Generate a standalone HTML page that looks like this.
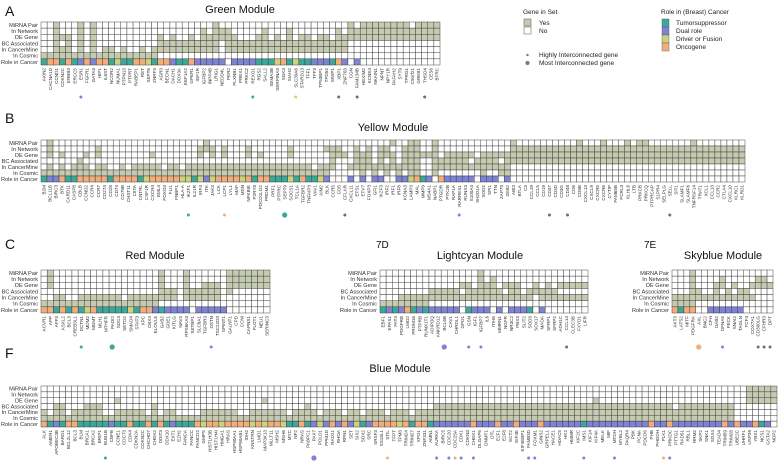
<!DOCTYPE html>
<html><head><meta charset="utf-8"><style>
html,body{margin:0;padding:0;background:#fff;}
svg{display:block;font-family:"Liberation Sans",sans-serif;}
</style></head><body>
<svg id="chart" width="778" height="461" viewBox="0 0 778 461" xmlns="http://www.w3.org/2000/svg">
<g fill="#111">
<text x="5" y="16" font-size="14">A</text>
<text x="5" y="123" font-size="14">B</text>
<text x="5" y="249" font-size="14">C</text>
<text x="376" y="248" font-size="10">7D</text>
<text x="644" y="248" font-size="10">7E</text>
<text x="5" y="358" font-size="14">F</text>
</g>
<g font-size="6.5" fill="#222">
<text x="523" y="14">Gene in Set</text>
<rect x="524" y="19" width="7" height="7" fill="#c5cbb0" stroke="#555" stroke-width="0.5"/>
<text x="539" y="25">Yes</text>
<rect x="524" y="27" width="7" height="7" fill="#fff" stroke="#555" stroke-width="0.5"/>
<text x="539" y="33">No</text>
<circle cx="527.5" cy="55" r="1.2" fill="#777"/>
<text x="539" y="57">Highly Interconnected gene</text>
<circle cx="527.5" cy="63" r="2" fill="#777"/>
<text x="539" y="65">Most Interconnected gene</text>
<text x="661" y="14">Role in (Breast) Cancer</text>
<rect x="662" y="19" width="7" height="8" fill="#3aa99a" stroke="#555" stroke-width="0.4"/>
<rect x="662" y="27" width="7" height="8" fill="#7f83d6" stroke="#555" stroke-width="0.4"/>
<rect x="662" y="35" width="7" height="8" fill="#cfd27c" stroke="#555" stroke-width="0.4"/>
<rect x="662" y="43" width="7" height="8" fill="#f3ad7c" stroke="#555" stroke-width="0.4"/>
<text x="676" y="25">Tumorsuppressor</text>
<text x="676" y="33">Dual role</text>
<text x="676" y="41">Driver or Fusion</text>
<text x="676" y="49">Oncogene</text>
</g>
<g id="panels"></g>
</svg>
<script>
const rowLabels = ["MiRNA Pair","In Network","DE Gene","BC Associated","In CancerMine","In Cosmic","Role in Cancer"];

const greenGenes = ["AXIN2","CACNA1D","CCND1","CDKN2C","ERBB3","ERCC5","ESR1","FGFR1","GATA3","HIP1","IL6ST","NCOR2","NUMA1","PTPN13","PTPRT","RABEP1","RET","SEPT6","ZNRF3","AGR3","BECN1","DACH1","DDX3A","EEF1A2","GPER1","IGF1R","IGFBP2","INPP4B","LRIG1","NEDD4L","PER2","PLXNB1","PREX1","PRKCZ","REXO1","RGS2","SALL2","SEMA3B","SERPINA3","SGK3","SIAH2","SLC39A6","STARD13","TFF1","TFF3","TP53BP1","TPD52","WWP1","XBP1","ZNF703","CGN","FAM134B","HEXIM2","KCNE4","NKAIN1","NPNT","NPY1R","PAFAH2","SYT9","TPRG1","C9orf21","GREB1","THSD4","CES6","BTRC"];
const greenRows = [
"00100010100000000000000000001000000000000000000000101111111101111",
"00100010100000000000000000101110000010001000000010111111111111111",
"00111010100000000001010010111111000110101011011011111111111111111",
"00101010100000000001111111111011111111111111111111000000000000000",
"00111010101101001011111111111011111111111111111111000000000000000",
"11111111111111111110000000000000000000000000000000000000000000000"];
const greenRoles = "tootot dodootfttooftoodttoddddd-ddddtttfotfttdddtod-d".replace(/ /g,"");
const greenDots = [[6,1,"d"],[34,1,"t"],[41,1,"f"],[48,1,"g"],[51,1,"g"],[62,1,"g"]];

const yellowGenes = ["B2M","BCL11B","BIRC3","BTK","CARD11","CASP8","CBLB","CCND2","CCR4","CCR7","CD274","CD28","CD74","CD79B","CHST11","CIITA","CNTRL","CSF1R","CXCR4","EML4","FOXO3","FLI1","FNBP1","HLA-A","IKZF1","IL21R","IRF4","ITK","JAK3","LCK","LCP1","LYL1","MAF","MSN","NFKBIE","P2RY8","PDCD1LG2","PRDM1","PRF1","PTPRC","SEPT9","SOCS1","TCL1A","TGFBR2","TNFAIP3","VAV1","AIM2","BLK","CCR5","CD5","CFLAR","CXCL11","ETS1","ETV7","FOXP3","GFI1","IKZF3","IRF2","IRF1","IRF8","KCNA3","LAMP3","MAL","MMP9","MS4A1","NABP1","PTGDR","PTK2B","RAP1A","RARRES1","RUNX3","S100A4","SH2D1A","SOD2","SPI1","TTN","ZAP70","ZEB2","ABI3","BTLA","C3","CCL19","CCL5","CD19","CD37","CD3D","CD3G","CD48","CD6","CD8B","CXCL13","CXCL9","CXCR5","CXCR6","CYTIP","FAM65B","FCRL3","KLHL6","LTB","PRKCB","PRKCQ","PTPRCAP","S1PR4","SELPLG","SELL","SIT1","SLAMF1","SLAMF6","TNFRSF14","TRAT1","XCL1","CCL13","CCR2","CTLA4","CXCL10","KLRC1","KLRD1"];
const yellowRows = [
"010000000000000000000000000100000000000000000000000000000010011001000000000000100000000001000100010110000000100000000",
"010000000100000000000000001110100010000001000001110010101100111001000000000000111111111111111111111111111111111111111",
"010100010100000000100000001010100010100001000000111011101110111111011111011111111111111111111111111111111111111111111",
"000000100000000000000000000000000000000000000000100011101010111001111110111101111111111111111111111111111111111111111",
"010101110110010111110110111111111111111111111011100111111111111001111111111111000000000000000000000000000000000000000",
"111111111111111111111111111111111111111111111111000001010101011001000000010011000000000000000000000000000000000000000"];
const yellowRoles = "tddottoooootoooo tfooooofftfdfoooofotootttftottfd---d-d-dd--ddfotd-oddddd-ddd-d-".replace(/ /g,"");
const yellowDots = [[24,1,"t"],[30,1,"o"],[40,2,"t"],[50,1,"g"],[69,1,"d"],[84,1,"g"],[87,1,"g"],[104,1,"g"]];

const redGenes = ["ACVR1","APP","AFF3","ASXL2","BCL3","CREB3L1","DCTN1","MDM2","MGMT","MLH1","MTHFR","PADI2","SDC4","SETD2","SMAD4","STAT3","XPC","CBX4","ELOVL6","GAB2","GDE1","KITLG","NAV3","RPS6KA3","SETBP1","SLC8A1","TGFBR3","DSTN","TSC22D3","SPINT1","GALNT1","CPD","CCNI","CAPNS1","FLOT1","NEU1","SERINC3"];
const redRows = [
"0100000000000000000100010000001111111",
"0100000000000000000100010000001111111",
"0100000000000000000100010011101111111",
"0000000000000000000111011111101000000",
"0011001111111011111111011111100000000",
"1111111111111111111000000000000000000"];
const redRoles = "ootototfotttttftoodtdddd-ddddd";
const redDots = [[6,1,"t"],[11,2,"t"],[27,1,"d"]];

const cyanGenes = ["EBF1","EPAS1","FAT4","PDGFRB","LMO2","PRDM16","PTPRB","RUNX1T1","ADIPOQ","ANKRD12","BCL6B","CAV1","CHRDL1","GPD1","GSN","IGF1","IGFBP7","IL6","ITIH5","MMRN1","NGFR","NR3C2","PBX3","SLIT2","SOD3","SOX17","MAOA","SFRP1","SFRP2","ADH1C","CCL14","CLEC3B","FXYD1","LIFR"];
const cyanRows = [
"0000000000000000100000000000000000",
"0000000000000000101000000000000000",
"0000000000000110111011100101011111",
"0000000011111011111101101111100000",
"0001111111111111111111111011111111",
"1111111100000000000000000000000000"];
const cyanRoles = "tdtdotdtddddd-tddd-d-dddt-d";
const cyanDots = [[10,2,"d"],[14,1,"d"],[16,1,"d"],[30,1,"g"]];

const skyGenes = ["AKT3","LATS2","MITF","PDGFRA","AXL","BNC2","CFH","DAB2","DFNA5","FECK","SNAI2","TAGLN","TCF4","COX7A1","CD300LG","CFHR3","DPT"];
const skyRows = [
"00010000000000000",
"00010000100000110",
"00010001101001111",
"00011001010110000",
"11111111111111000",
"11110000000000000"];
const skyRoles = "otoo--dddddd";
const skyDots = [[4,2,"o"],[8,1,"d"],[14,1,"g"],[15,1,"g"],[16,1,"g"]];

const blueGenes = ["ALK","AMER1","APOBEC3B","BARD1","BCL2L12","BCL3","BLM","BRCA1","BRCA2","BRIP1","BUB1B","CBFB","CCNE1","CDC73","CDK4","CDKN2A","CDKN2C","CHCHD7","CHEK2","DDIT3","DDX10","EXT1","EZH2","FANCA","FANCC","FANCD2","GMPS","HIST1H3B","HIST1H4I","HMGA1","HRAS","HSP90AA1","HSP90AB1","IDH2","KNSTRN","LMO1","MAP3K13","MLLT11","MSH2","MSH6","MYC","NF2","NRAS","PABPC1","PAX7","POLD1","PPM1D","RAD21","RHOA","RPN1","SET","SIX2","SOX2","SRC","SRSF3","SS18L1","STIL","TFPT","TPM3","TRIM24","TRIM27","XPO1","ZNF331","AMN1","AURKA","BIRC5","CDC20","CDC25A","CDK1","CDKN3","CHEK1","DLGAP5","DNMT1","DTL","E2F1","E2F8","ECT2","EIF4E","EIF4EBP1","FAM83D","FOXM1","GINS2","GRPEL1","HACE1","HDAC5","HK2","HMMR","KIF2C","IMS1","KIF14","KIF4A","MELK","MIF","MTDH","MYBL2","PAQR4","PBK","PCNA","PDCD5","PHB","PHGDH","PLK1","PRKDC","PTTG1","RAD51","RBL1","RRM2","SKP2","SNK1","SOX4","TEAD4","TRIM59","TRIM28","UBE2C","UHRF1","USP39","YBX1","NCS1","GSTA2","NOP2"];
const blueRows = [
"000000000000000000000000000000000000000000000000000000000000000000000000000000000000000000000000000000000000000000011111",
"000000000000000000000000000000000000000000000000000000000000000000000000000000000000000000000000000000000000000000011111",
"000000000000100000000000000000000000100000000000000000000000000000000000000000000000000000100000000000000000000000011111",
"001100011100000000100000000000000000000000010000000000000000000011111111111111111111111111111111111111101111111110000000",
"101101111100111110101100001111110011111101111011101101110111011111111111111111111111111111111111111111111111111110000000",
"111111111111111111111111111111111111111111111111111111111111111111111111111111111111111111111111111111111111111110000000"];
const blueRoles = "otdtootttttdttottototdtttofoofoooofofoofttotdfdododftdoooofotootddddddodddoddodddoddddddtddddddddddoddoddddddddododdotd";
const blueDots = [[10,1,"t"],[44,2,"d"],[56,1,"o"],[64,1,"d"],[66,1,"d"],[67,1,"o"],[68,1,"d"],[70,1,"d"],[79,1,"d"],[80,1,"d"],[88,1,"d"],[93,1,"d"],[101,1,"o"],[102,1,"d"]];

const roleColor = {t:"#3aa99a", d:"#7f83d6", f:"#cfd27c", o:"#f3ad7c", g:"#6f6f6f"};
const NS = "http://www.w3.org/2000/svg";
const root = document.getElementById("panels");

function mk(tag, attrs, parent){
  const e = document.createElementNS(NS, tag);
  for (const k in attrs) e.setAttribute(k, attrs[k]);
  parent.appendChild(e);
  return e;
}

function drawPanel(cfg){
  const g = mk("g", {}, root);
  
  
  const n = cfg.genes.length;
  const cw = (cfg.x1 - cfg.x0) / n;
  const rh = (cfg.y1 - cfg.y0) / 7;
  const xs = i => cfg.x0 + i * cw;
  const ys = r => cfg.y0 + r * rh;
  const title = mk("text", {x: cfg.tx, y: cfg.ty, "font-size": 11, "text-anchor": "middle", fill: "#111"}, g);
  
  
  title.textContent = cfg.title;
  rowLabels.forEach((lab, r) => {
    const t = mk("text", {x: cfg.x0 - 3, y: ys(r) + rh * 0.8, "font-size": 5.6, "text-anchor": "end", fill: "#333"}, g);
    
    
    t.textContent = lab;
  });
  for (let i = 0; i < n; i++){
    for (let r = 0; r < 7; r++){
      let fill = "#fff";
      if (r < 6){
        const s = cfg.rows[r];
        if (s[i] === "1") fill = "#c5cbb0";
      } else {
        const c = cfg.roles[i];
        if (c && roleColor[c]) fill = roleColor[c];
      }
      const cell = mk("rect", {x: xs(i), y: ys(r), width: cw, height: rh, fill: fill, stroke: "#3a3a3a", "stroke-width": 0.45}, g);
      
      
    }
    const cx = xs(i) + cw / 2;
    const ly = cfg.y1 + 3;
    const t = mk("text", {x: cx + 1.6, y: ly, "font-size": 4.6, "text-anchor": "end", fill: "#333", transform: "rotate(-90 " + (cx + 1.6) + " " + ly + ")"}, g);
    
    
    t.textContent = cfg.genes[i];
  }
  cfg.dots.forEach(d => {
    const c = mk("circle", {cx: xs(d[0]) + cw / 2, cy: cfg.y1 + cfg.dy, r: d[1] === 2 ? 2.6 : 1.5, fill: roleColor[d[2]]}, g);
    
    
  });
}

drawPanel({name:"green", title:"Green Module", genes:greenGenes, rows:greenRows, roles:greenRoles, dots:greenDots, x0:41, x1:440, y0:22, y1:65, tx:240, ty:13, dy:32});
drawPanel({name:"yellow", title:"Yellow Module", genes:yellowGenes, rows:yellowRows, roles:yellowRoles, dots:yellowDots, x0:41, x1:745, y0:140, y1:182, tx:393, ty:131, dy:33});
drawPanel({name:"red", title:"Red Module", genes:redGenes, rows:redRows, roles:redRoles, dots:redDots, x0:41, x1:270, y0:270, y1:313, tx:155, ty:259, dy:34});
drawPanel({name:"lightcyan", title:"Lightcyan Module", genes:cyanGenes, rows:cyanRows, roles:cyanRoles, dots:cyanDots, x0:380, x1:588, y0:270, y1:313, tx:480, ty:259, dy:34});
drawPanel({name:"skyblue", title:"Skyblue Module", genes:skyGenes, rows:skyRows, roles:skyRoles, dots:skyDots, x0:672, x1:773, y0:270, y1:313, tx:723, ty:259, dy:34});
drawPanel({name:"blue", title:"Blue Module", genes:blueGenes, rows:blueRows, roles:blueRoles, dots:blueDots, x0:41, x1:777, y0:386, y1:427, tx:400, ty:372, dy:31});
</script>
</body></html>
